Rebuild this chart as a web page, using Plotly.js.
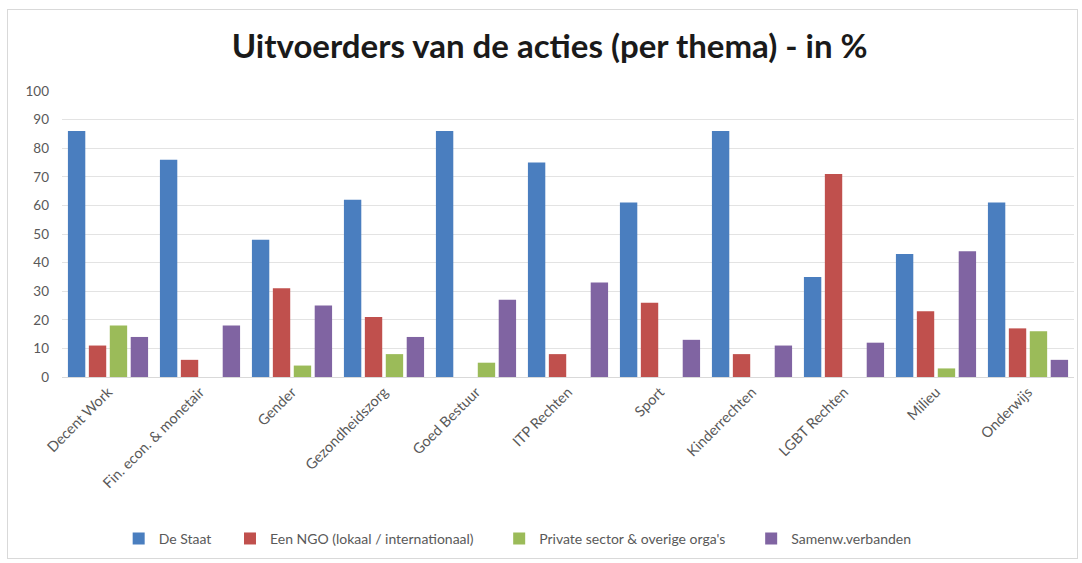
<!DOCTYPE html>
<html>
<head>
<meta charset="utf-8">
<script src="https://cdn.plot.ly/plotly-3.0.1.min.js"></script>
<style>
  html, body { margin: 0; padding: 0; background: #fff; }
  #chart { width: 1082px; height: 563px; }
  #frame { position: absolute; left: 7px; top: 9px; width: 1069px; height: 548px; border: 1px solid #d9d9d9; pointer-events: none; }
</style>
</head>
<body>
<div id="chart"></div>
<div id="frame"></div>
<script>
const categories = ["Decent Work", "Fin. econ. & monetair", "Gender", "Gezondheidszorg", "Goed Bestuur", "ITP Rechten", "Sport", "Kinderrechten", "LGBT Rechten", "Milieu", "Onderwijs"];
const seriesNames = ["De Staat", "Een NGO (lokaal / internationaal)", "Private sector & overige orga's", "Samenw.verbanden"];
const deStaat =      [86, 76, 48, 62, 86, 75, 61, 86, 35, 43, 61];
const eenNGO =       [11,  6, 31, 21,  0,  8, 26,  8, 71, 23, 17];
const privateSector =[18,  0,  4,  8,  5,  0,  0,  0,  0,  3, 16];
const samenw =       [14, 18, 25, 14, 27, 33, 13, 11, 12, 44,  6];
const yTicks = [0, 10, 20, 30, 40, 50, 60, 70, 80, 90, 100];

const colors = ["#4a7ebf", "#c0504d", "#9bbb59", "#8064a2"];
const values = [deStaat, eenNGO, privateSector, samenw];
const legendIds = ["legend", "legend2", "legend3", "legend4"];
const legendX = [0.056, 0.166, 0.432, 0.681];

const traces = values.map((v, i) => ({
  type: "bar",
  name: seriesNames[i],
  x: categories,
  y: v,
  marker: { color: colors[i] },
  legend: legendIds[i],
  hoverinfo: "x+y+name"
}));

const layout = {
  width: 1082,
  height: 563,
  margin: { l: 62, r: 8, t: 91, b: 186 },
  paper_bgcolor: "#fff",
  plot_bgcolor: "#fff",
  font: { family: "Lato, 'Open Sans', sans-serif", color: "#595959", size: 13 },
  title: {
    text: "<b>Uitvoerders van de acties (per thema) - in %</b>",
    font: { family: "Lato, 'Open Sans', sans-serif", size: 33, color: "#1a1a1a" },
    x: 0.508, xanchor: "center", y: 0.918, yanchor: "middle"
  },
  barmode: "group",
  bargap: 0.09,
  bargroupgap: 0.17,
  xaxis: {
    type: "category",
    tickangle: -45,
    tickfont: { size: 14.5, color: "#595959" },
    showgrid: false,
    showline: true,
    linecolor: "#d9d9d9",
    ticks: ""
  },
  yaxis: {
    range: [0, 100],
    tickvals: yTicks,
    ticktext: yTicks.map(String),
    showgrid: true,
    gridcolor: "#e3e3e3",
    zeroline: false,
    showline: false,
    ticks: "",
    ticklabelstandoff: 12,
    tickfont: { size: 13.5, color: "#595959" }
  },
  showlegend: true
};

legendIds.forEach((id, i) => {
  layout[id] = {
    orientation: "h",
    x: legendX[i], xanchor: "left",
    y: -0.566, yanchor: "middle",
    font: { size: 14, color: "#595959" },
    itemwidth: 30,
    bgcolor: "rgba(0,0,0,0)"
  };
});

Plotly.newPlot("chart", traces, layout, { displayModeBar: false, staticPlot: true });
</script>
</body>
</html>
